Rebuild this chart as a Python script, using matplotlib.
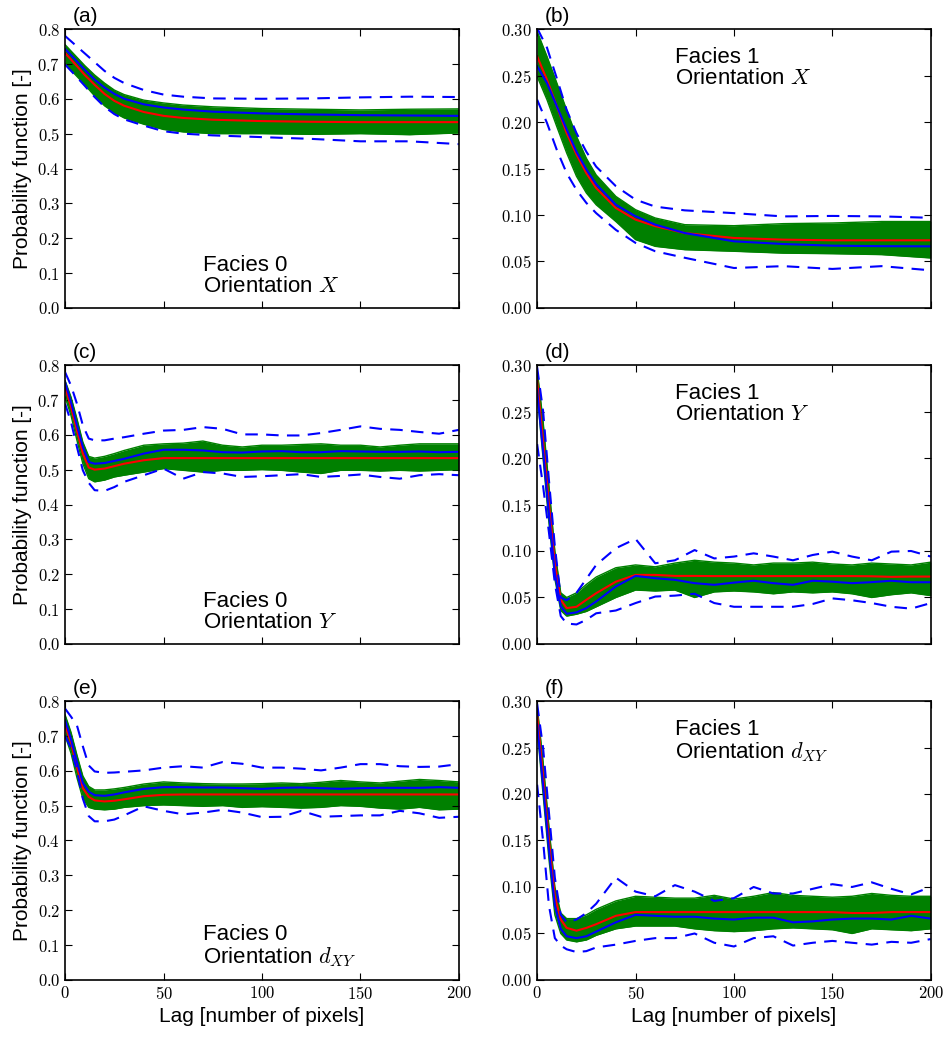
import matplotlib
matplotlib.use("Agg")
import matplotlib.pyplot as plt
from matplotlib.ticker import FuncFormatter, MultipleLocator

plt.rcParams['font.family'] = ['Liberation Sans', 'DejaVu Sans']
plt.rcParams['mathtext.fontset'] = 'cm'

# lag grids
lag_s = [0, 5, 10, 15, 20, 25, 30, 40, 50, 60, 75, 100, 125, 150, 175, 200]
lag_f = [0, 3, 6, 9, 12, 15, 20, 25, 30, 40, 50, 60, 70, 80, 90, 100,
         110, 120, 130, 140, 150, 160, 170, 180, 190, 200]

# (a) facies 0, orientation X
a_up = [0.78, 0.755, 0.73, 0.705, 0.68, 0.66, 0.645, 0.625, 0.612, 0.606, 0.601, 0.600, 0.601, 0.604, 0.606, 0.605]
a_lo = [0.698, 0.668, 0.637, 0.605, 0.577, 0.556, 0.541, 0.523, 0.507, 0.500, 0.495, 0.490, 0.485, 0.478, 0.478, 0.470]
a_mean = [0.731, 0.70, 0.668, 0.64, 0.614, 0.594, 0.58, 0.562, 0.551, 0.545, 0.54, 0.536, 0.534, 0.533, 0.533, 0.533]
a_ref = [0.743, 0.713, 0.683, 0.655, 0.632, 0.614, 0.60, 0.584, 0.575, 0.569, 0.563, 0.558, 0.555, 0.553, 0.552, 0.551]
a_bhi = [0.755, 0.725, 0.695, 0.668, 0.645, 0.625, 0.612, 0.596, 0.588, 0.582, 0.577, 0.572, 0.570, 0.568, 0.570, 0.571]
a_blo = [0.70, 0.67, 0.64, 0.608, 0.58, 0.56, 0.545, 0.527, 0.512, 0.505, 0.50, 0.50, 0.498, 0.500, 0.497, 0.502]

# (b) facies 1, orientation X
b_up = [0.301, 0.28, 0.247, 0.213, 0.188, 0.168, 0.152, 0.131, 0.1165, 0.109, 0.105, 0.102, 0.0985, 0.099, 0.0985, 0.097]
b_lo = [0.224, 0.199, 0.170, 0.145, 0.127, 0.113, 0.102, 0.084, 0.070, 0.061, 0.054, 0.043, 0.045, 0.042, 0.045, 0.0405]
b_mean = [0.2706, 0.2455, 0.217, 0.188, 0.165, 0.145, 0.129, 0.1075, 0.095, 0.088, 0.0806, 0.0753, 0.0735, 0.0728, 0.0728, 0.0728]
b_ref = [0.26, 0.242, 0.217, 0.192, 0.168, 0.149, 0.133, 0.111, 0.0986, 0.0896, 0.0806, 0.0717, 0.0688, 0.067, 0.0665, 0.0663]
b_bhi = [0.2975, 0.2706, 0.242, 0.213, 0.1846, 0.161, 0.143, 0.120, 0.1057, 0.0968, 0.0896, 0.0885, 0.0907, 0.0914, 0.093, 0.093]
b_blo = [0.249, 0.224, 0.195, 0.1667, 0.1416, 0.1237, 0.111, 0.093, 0.0735, 0.0663, 0.0627, 0.061, 0.059, 0.0584, 0.0574, 0.0538]

# (c) facies 0, orientation Y
c_up = [0.779, 0.741, 0.689, 0.627, 0.589, 0.584, 0.584, 0.589, 0.593, 0.603, 0.612, 0.614, 0.622, 0.617, 0.601, 0.601,
        0.598, 0.598, 0.605, 0.614, 0.624, 0.617, 0.614, 0.608, 0.603, 0.614]
c_lo = [0.689, 0.636, 0.565, 0.498, 0.462, 0.441, 0.439, 0.45, 0.465, 0.484, 0.503, 0.474, 0.493, 0.489, 0.479, 0.481,
        0.484, 0.487, 0.479, 0.482, 0.486, 0.479, 0.474, 0.484, 0.487, 0.484]
c_mean = [0.736, 0.679, 0.612, 0.546, 0.506, 0.50, 0.503, 0.51, 0.517, 0.527, 0.533, 0.533, 0.533, 0.533, 0.533, 0.533,
          0.533, 0.533, 0.533, 0.533, 0.533, 0.533, 0.533, 0.533, 0.533, 0.533]
c_ref = [0.750, 0.693, 0.627, 0.565, 0.522, 0.517, 0.519, 0.525, 0.531, 0.546, 0.557, 0.557, 0.555, 0.55, 0.549, 0.552,
         0.553, 0.55, 0.55, 0.553, 0.552, 0.551, 0.551, 0.552, 0.55, 0.551]
c_bhi = [0.755, 0.708, 0.646, 0.579, 0.538, 0.533, 0.538, 0.546, 0.555, 0.57, 0.574, 0.576, 0.582, 0.57, 0.565, 0.57,
         0.57, 0.572, 0.574, 0.57, 0.57, 0.565, 0.57, 0.574, 0.574, 0.574]
c_blo = [0.708, 0.655, 0.584, 0.517, 0.474, 0.465, 0.47, 0.479, 0.484, 0.493, 0.503, 0.498, 0.493, 0.498, 0.498, 0.50,
         0.498, 0.493, 0.489, 0.498, 0.498, 0.496, 0.498, 0.496, 0.498, 0.50]

# (d) facies 1, orientation Y
d_up = [0.2975, 0.251, 0.176, 0.105, 0.05, 0.047, 0.055, 0.07, 0.085, 0.103, 0.113, 0.0868, 0.090, 0.101, 0.092, 0.094,
        0.0975, 0.094, 0.090, 0.0957, 0.0993, 0.094, 0.090, 0.0993, 0.100, 0.094]
d_lo = [0.215, 0.17, 0.12, 0.065, 0.03, 0.022, 0.021, 0.026, 0.033, 0.036, 0.044, 0.051, 0.052, 0.054, 0.044, 0.040,
        0.040, 0.040, 0.040, 0.043, 0.049, 0.047, 0.044, 0.040, 0.038, 0.044]
d_mean = [0.283, 0.219, 0.151, 0.087, 0.0475, 0.0386, 0.040, 0.0475, 0.0546, 0.067, 0.0743, 0.0743, 0.0732, 0.0732, 0.073, 0.073,
          0.073, 0.073, 0.073, 0.073, 0.073, 0.073, 0.0728, 0.0722, 0.0725, 0.0725]
d_ref = [0.2725, 0.208, 0.140, 0.076, 0.0404, 0.0325, 0.034, 0.0386, 0.0457, 0.0618, 0.0732, 0.0707, 0.069, 0.0654, 0.0636, 0.066,
         0.068, 0.0654, 0.0636, 0.068, 0.067, 0.0654, 0.0665, 0.068, 0.0664, 0.0664]
d_bhi = [0.295, 0.24, 0.17, 0.10, 0.055, 0.05, 0.055, 0.064, 0.072, 0.082, 0.085, 0.083, 0.087, 0.090, 0.088, 0.087,
         0.085, 0.087, 0.087, 0.088, 0.086, 0.085, 0.087, 0.086, 0.085, 0.088]
d_blo = [0.27, 0.20, 0.13, 0.07, 0.036, 0.030, 0.032, 0.035, 0.04, 0.05, 0.058, 0.057, 0.058, 0.05, 0.056, 0.057,
         0.056, 0.054, 0.056, 0.055, 0.056, 0.054, 0.05, 0.053, 0.055, 0.052]

# (e) facies 0, orientation dXY
e_up = [0.778, 0.755, 0.73, 0.67, 0.615, 0.598, 0.594, 0.595, 0.597, 0.601, 0.609, 0.613, 0.609, 0.625, 0.62, 0.609,
        0.609, 0.606, 0.601, 0.609, 0.619, 0.619, 0.613, 0.611, 0.612, 0.619]
e_lo = [0.70, 0.665, 0.60, 0.52, 0.47, 0.455, 0.455, 0.46, 0.472, 0.498, 0.485, 0.475, 0.48, 0.488, 0.48, 0.467,
        0.468, 0.485, 0.468, 0.47, 0.472, 0.472, 0.485, 0.478, 0.465, 0.468]
e_mean = [0.73, 0.68, 0.61, 0.55, 0.525, 0.515, 0.512, 0.514, 0.518, 0.527, 0.531, 0.532, 0.532, 0.532, 0.532, 0.532,
          0.532, 0.532, 0.532, 0.532, 0.532, 0.532, 0.532, 0.532, 0.532, 0.532]
e_ref = [0.745, 0.69, 0.625, 0.565, 0.54, 0.53, 0.528, 0.532, 0.538, 0.548, 0.553, 0.553, 0.552, 0.552, 0.550, 0.548,
         0.551, 0.552, 0.550, 0.548, 0.550, 0.551, 0.551, 0.551, 0.553, 0.551]
e_bhi = [0.76, 0.71, 0.645, 0.585, 0.555, 0.545, 0.545, 0.548, 0.552, 0.562, 0.568, 0.565, 0.563, 0.562, 0.562, 0.563,
         0.565, 0.563, 0.567, 0.572, 0.568, 0.565, 0.57, 0.575, 0.572, 0.568]
e_blo = [0.70, 0.65, 0.58, 0.52, 0.495, 0.49, 0.488, 0.49, 0.495, 0.50, 0.502, 0.50, 0.498, 0.50, 0.495, 0.497,
         0.495, 0.493, 0.495, 0.50, 0.498, 0.493, 0.49, 0.495, 0.488, 0.49]

# (f) facies 1, orientation dXY
f_up = [0.297, 0.25, 0.18, 0.11, 0.07, 0.062, 0.065, 0.072, 0.082, 0.11, 0.095, 0.09, 0.102, 0.095, 0.085, 0.088,
        0.10, 0.093, 0.093, 0.098, 0.103, 0.10, 0.105, 0.098, 0.092, 0.10]
f_lo = [0.21, 0.15, 0.08, 0.045, 0.037, 0.033, 0.03, 0.031, 0.035, 0.038, 0.042, 0.045, 0.045, 0.05, 0.04, 0.036,
        0.045, 0.047, 0.037, 0.04, 0.042, 0.04, 0.038, 0.041, 0.04, 0.044]
f_mean = [0.285, 0.22, 0.15, 0.09, 0.065, 0.056, 0.053, 0.056, 0.06, 0.069, 0.073, 0.073, 0.073, 0.073, 0.073, 0.073,
          0.073, 0.073, 0.073, 0.073, 0.073, 0.072, 0.072, 0.073, 0.073, 0.073]
f_ref = [0.275, 0.21, 0.14, 0.08, 0.055, 0.047, 0.045, 0.047, 0.052, 0.062, 0.070, 0.069, 0.068, 0.068, 0.066, 0.065,
         0.067, 0.067, 0.062, 0.063, 0.065, 0.066, 0.066, 0.065, 0.069, 0.066]
f_bhi = [0.295, 0.235, 0.165, 0.10, 0.072, 0.066, 0.066, 0.07, 0.076, 0.085, 0.09, 0.089, 0.088, 0.088, 0.091, 0.087,
         0.09, 0.094, 0.091, 0.09, 0.089, 0.09, 0.093, 0.091, 0.09, 0.09]
f_blo = [0.27, 0.2, 0.13, 0.07, 0.05, 0.043, 0.041, 0.043, 0.048, 0.055, 0.058, 0.058, 0.058, 0.055, 0.053, 0.052,
         0.053, 0.055, 0.056, 0.055, 0.054, 0.05, 0.055, 0.054, 0.053, 0.055]

panels = [
    ('(a)', lag_s, a_up, a_lo, a_mean, a_ref, a_bhi, a_blo, 'Facies 0', '$X$'),
    ('(b)', lag_s, b_up, b_lo, b_mean, b_ref, b_bhi, b_blo, 'Facies 1', '$X$'),
    ('(c)', lag_f, c_up, c_lo, c_mean, c_ref, c_bhi, c_blo, 'Facies 0', '$Y$'),
    ('(d)', lag_f, d_up, d_lo, d_mean, d_ref, d_bhi, d_blo, 'Facies 1', '$Y$'),
    ('(e)', lag_f, e_up, e_lo, e_mean, e_ref, e_bhi, e_blo, 'Facies 0', '$d_{XY}$'),
    ('(f)', lag_f, f_up, f_lo, f_mean, f_ref, f_bhi, f_blo, 'Facies 1', '$d_{XY}$'),
]

fig = plt.figure(figsize=(9.44, 10.37), dpi=100)
lefts = [0.069, 0.569]
bottoms = [0.703, 0.379, 0.055]
w, h = 0.417, 0.269

for i, (tag, lag, up, lo, mean, ref, bhi, blo, facies, orient) in enumerate(panels):
    row, col = divmod(i, 2)
    ax = fig.add_axes([lefts[col], bottoms[row], w, h])
    # band of realisations
    ax.fill_between(lag, blo, bhi, color='g', lw=0)
    ax.plot(lag, bhi, color='g', lw=1)
    ax.plot(lag, blo, color='g', lw=1)
    ax.plot(lag, mean, color='r', lw=1.5)
    ax.plot(lag, ref, color='b', lw=1.5)
    ax.plot(lag, up, 'b--', lw=1.5, dashes=(6, 4))
    ax.plot(lag, lo, 'b--', lw=1.5, dashes=(6, 4))

    ax.set_xlim(0, 200)
    ax.xaxis.set_major_locator(MultipleLocator(50))
    if col == 0:
        ax.set_ylim(0, 0.8)
        ax.yaxis.set_major_locator(MultipleLocator(0.1))
        ax.yaxis.set_major_formatter(FuncFormatter(lambda v, p: '$%.1f$' % v))
        ax.set_ylabel('Probability function [-]', fontsize=15)
    else:
        ax.set_ylim(0, 0.30)
        ax.yaxis.set_major_locator(MultipleLocator(0.05))
        ax.yaxis.set_major_formatter(FuncFormatter(lambda v, p: '$%.2f$' % v))
    ax.xaxis.set_major_formatter(FuncFormatter(lambda v, p: '$%d$' % v))
    if row == 2:
        ax.set_xlabel('Lag [number of pixels]', fontsize=15)
    else:
        ax.tick_params(labelbottom=False)
    ax.tick_params(direction='in', top=True, right=True, length=5, labelsize=12)
    for s in ax.spines.values():
        s.set_linewidth(1.2)

    ax.text(0.02, 1.01, tag, transform=ax.transAxes, fontsize=15, va='bottom')
    if col == 0:
        ax.text(0.35, 0.04, facies + '\nOrientation ' + orient, transform=ax.transAxes,
                fontsize=16, va='bottom', linespacing=1.0)
    else:
        ax.text(0.35, 0.935, facies + '\nOrientation ' + orient, transform=ax.transAxes,
                fontsize=16, va='top', linespacing=1.0)

fig.savefig('out.png', dpi=100)
